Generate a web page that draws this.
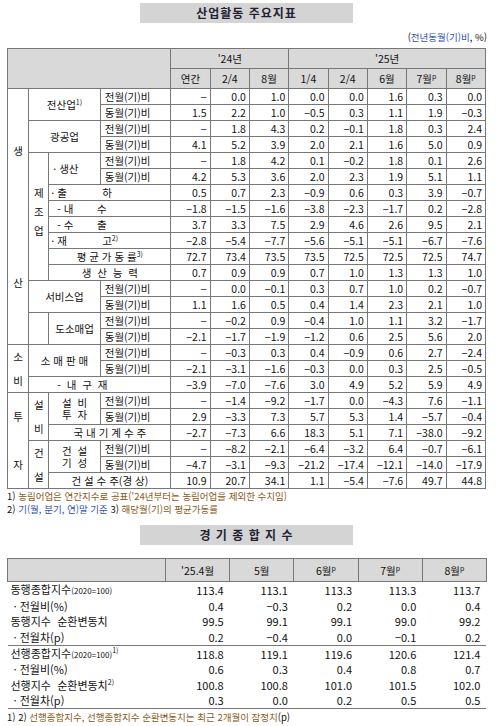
<!DOCTYPE html>
<html lang="ko">
<head>
<meta charset="UTF-8">
<script src="https://cdn.jsdelivr.net/npm/chart.js"></script>
<style>
    body { margin: 0; width: 497px; height: 726px; background: #fff; font-family: "Noto Sans CJK KR", sans-serif; font-size: 10.5px; color: #111; position: relative; overflow: hidden; }
    .title { position: absolute; left: 140px; width: 213px; height: 20px; background: #d4d4d4; text-align: center; font-weight: bold; font-size: 12px; line-height: 20px; color: #223; letter-spacing: 1px; }
    .unit { position: absolute; right: 10px; top: 30px; font-size: 9.5px; }
    table { position: absolute; left: 7px; border-collapse: collapse; table-layout: fixed; }
    #main td, #main th { border: 1px solid #777; height: 15px; padding: 0 2px; line-height: 12px; white-space: nowrap; font-weight: normal; }
    #main th { background: #d9d9d9; text-align: center; height: 19px; }
    #main td.v { text-align: right; padding-right: 3px; }
    #main td.t { border-left: 1px dotted #555; text-align: left; padding-left: 4px; }
    #main td.c { text-align: center; }
    #main tr.d td.v, #main tr.d td.t { border-top: 1px dotted #555; }
    #main tr.n td.v, #main tr.n td.t, #main tr.n td.nm { border-top: none; }
    .note { position: absolute; left: 7px; font-size: 9.5px; line-height: 13px; }
    .blue { color: #2f55b0; }
    .brn { color: #8a5a20; }
    #cli { top: 558px; width: 479px; }
    #cli th { background: #d9d9d9; border: 1px solid #777; height: 20px; font-weight: normal; text-align: center; }
    #cli td { height: 15.5px; padding: 0 3px; line-height: 14px; font-size: 11px; }
    #cli td.v { text-align: right; padding-right: 6px; }
    #cli tr.top td { border-top: 1px solid #777; }
    #cli tr.last td { border-bottom: 1px solid #777; }
    sup { font-size: 7px; line-height: 0; }
</style>
</head>
<body>
<div class="title" style="top:3px">산업활동 주요지표</div>
<div class="unit">(<span class="blue">전년동월(기)비</span>, %)</div>
<table id="main" style="top:48px;width:479px"></table>
<div class="note" style="top:490px">1) <span class="brn">농림어업은 연간지수로 공표('24년부터는 농림어업을 제외한 수치임)</span><br>2) <span class="blue">기(월, 분기, 연)말 기준</span> 3) <span class="brn">해당월(기)의 평균가동률</span></div>
<div class="title" style="top:525px">경 기 종 합 지 수</div>
<table id="cli"></table>
<div class="note" style="top:711px">1) 2) <span class="brn">선행종합지수, 선행종합지수 순환변동치는 최근 2개월이 잠정치</span>(p)</div>
<script>
    // 산업활동 주요지표 columns
    const years = ["'24년", "'25년"];
    const periods = ['연간', '2/4', '8월', '1/4', '2/4', '6월', '7월<sup>p</sup>', '8월<sup>p</sup>'];

    const allMoM = [null, 0.0, 1.0, 0.0, 0.0, 1.6, 0.3, 0.0];
    const allYoY = [1.5, 2.2, 1.0, -0.5, 0.3, 1.1, 1.9, -0.3];
    const minMoM = [null, 1.8, 4.3, 0.2, -0.1, 1.8, 0.3, 2.4];
    const minYoY = [4.1, 5.2, 3.9, 2.0, 2.1, 1.6, 5.0, 0.9];
    const mfgMoM = [null, 1.8, 4.2, 0.1, -0.2, 1.8, 0.1, 2.6];
    const mfgYoY = [4.2, 5.3, 3.6, 2.0, 2.3, 1.9, 5.1, 1.1];
    const shipment = [0.5, 0.7, 2.3, -0.9, 0.6, 0.3, 3.9, -0.7];
    const domestic = [-1.8, -1.5, -1.6, -3.8, -2.3, -1.7, 0.2, -2.8];
    const exports = [3.7, 3.3, 7.5, 2.9, 4.6, 2.6, 9.5, 2.1];
    const inventory = [-2.8, -5.4, -7.7, -5.6, -5.1, -5.1, -6.7, -7.6];
    const utilization = [72.7, 73.4, 73.5, 73.5, 72.5, 72.5, 72.5, 74.7];
    const capacity = [0.7, 0.9, 0.9, 0.7, 1.0, 1.3, 1.3, 1.0];
    const svcMoM = [null, 0.0, -0.1, 0.3, 0.7, 1.0, 0.2, -0.7];
    const svcYoY = [1.1, 1.6, 0.5, 0.4, 1.4, 2.3, 2.1, 1.0];
    const wrMoM = [null, -0.2, 0.9, -0.4, 1.0, 1.1, 3.2, -1.7];
    const wrYoY = [-2.1, -1.7, -1.9, -1.2, 0.6, 2.5, 5.6, 2.0];
    const retailMoM = [null, -0.3, 0.3, 0.4, -0.9, 0.6, 2.7, -2.4];
    const retailYoY = [-2.1, -3.1, -1.6, -0.3, 0.0, 0.3, 2.5, -0.5];
    const durable = [-3.9, -7.0, -7.6, 3.0, 4.9, 5.2, 5.9, 4.9];
    const facMoM = [null, -1.4, -9.2, -1.7, 0.0, -4.3, 7.6, -1.1];
    const facYoY = [2.9, -3.3, 7.3, 5.7, 5.3, 1.4, -5.7, -0.4];
    const machOrders = [-2.7, -7.3, 6.6, 18.3, 5.1, 7.1, -38.0, -9.2];
    const conMoM = [null, -8.2, -2.1, -6.4, -3.2, 6.4, -0.7, -6.1];
    const conYoY = [-4.7, -3.1, -9.3, -21.2, -17.4, -12.1, -14.0, -17.9];
    const conOrders = [10.9, 20.7, 34.1, 1.1, -5.4, -7.6, 49.7, 44.8];

    // 경기종합지수
    const cliMonths = ["'25.4월", '5월', '6월<sup>p</sup>', '7월<sup>p</sup>', '8월<sup>p</sup>'];
    const cliLabels = ['동행종합지수<small style="font-size:8px">(2020=100)</small>', '&nbsp;· 전월비(%)', '동행지수 &nbsp;순환변동치', '&nbsp;· 전월차(p)',
        '선행종합지수<small style="font-size:8px">(2020=100)</small><sup>1)</sup>', '&nbsp;· 전월비(%)', '선행지수 &nbsp;순환변동치<sup>2)</sup>', '&nbsp;· 전월차(p)'];
    const coinIdx = [113.4, 113.1, 113.3, 113.3, 113.7];
    const coinMoM = [0.4, -0.3, 0.2, 0.0, 0.4];
    const coinCyc = [99.5, 99.1, 99.1, 99.0, 99.2];
    const coinCycD = [0.2, -0.4, 0.0, -0.1, 0.2];
    const leadIdx = [118.8, 119.1, 119.6, 120.6, 121.4];
    const leadMoM = [0.6, 0.3, 0.4, 0.8, 0.7];
    const leadCyc = [100.8, 100.8, 101.0, 101.5, 102.0];
    const leadCycD = [0.3, 0.0, 0.2, 0.5, 0.5];

    const fmt = v => v === null ? '−' : v.toFixed(1).replace('-', '−');
    const vals = arr => arr.map(v => `<td class="v">${fmt(v)}</td>`).join('');
    const MOM = '<td class="t">전월(기)비</td>', YOY = '<td class="t">동월(기)비</td>';
    const DOT = 'border-top:1px dotted #555';

    const main = document.getElementById('main');
    let h = '<colgroup><col style="width:21px"><col style="width:20px"><col style="width:51px"><col style="width:70px">';
    h += '<col style="width:39px">'.repeat(8) + '</colgroup>';
    h += `<tr><th colspan="4" rowspan="2"></th><th colspan="3">${years[0]}</th><th colspan="5">${years[1]}</th></tr>`;
    h += '<tr>' + periods.map(p => `<th>${p}</th>`).join('') + '</tr>';
    h += `<tr><td rowspan="16" class="c">생<br><br><br><br><br><br><br><br><br><br><br>산</td><td colspan="2" rowspan="2" class="c">전산업<sup>1)</sup></td>${MOM}${vals(allMoM)}</tr>`;
    h += `<tr class="d">${YOY}${vals(allYoY)}</tr>`;
    h += `<tr><td colspan="2" rowspan="2" class="c">광공업</td>${MOM}${vals(minMoM)}</tr>`;
    h += `<tr class="d">${YOY}${vals(minYoY)}</tr>`;
    h += `<tr><td rowspan="8" class="c" style="vertical-align:top;padding-top:30px;line-height:19px">제<br>조<br>업</td><td rowspan="2" style="padding-left:4px">· 생산</td>${MOM}${vals(mfgMoM)}</tr>`;
    h += `<tr class="d">${YOY}${vals(mfgYoY)}</tr>`;
    h += `<tr class="d"><td colspan="2" style="${DOT}">· 출 &nbsp;&nbsp;&nbsp;&nbsp;&nbsp;&nbsp;&nbsp;&nbsp;&nbsp;&nbsp; 하</td>${vals(shipment)}</tr>`;
    h += `<tr class="n"><td colspan="2" class="nm">&nbsp;&nbsp;- 내 &nbsp;&nbsp;&nbsp;&nbsp;&nbsp;&nbsp; 수</td>${vals(domestic)}</tr>`;
    h += `<tr class="n"><td colspan="2" class="nm">&nbsp;&nbsp;- 수 &nbsp;&nbsp;&nbsp;&nbsp;&nbsp;&nbsp; 출</td>${vals(exports)}</tr>`;
    h += `<tr class="n"><td colspan="2" class="nm">· 재 &nbsp;&nbsp;&nbsp;&nbsp;&nbsp;&nbsp;&nbsp;&nbsp;&nbsp;&nbsp; 고<sup>2)</sup></td>${vals(inventory)}</tr>`;
    h += `<tr class="d"><td colspan="2" class="c" style="${DOT}">평 균 가 동 률<sup>3)</sup></td>${vals(utilization)}</tr>`;
    h += `<tr class="n"><td colspan="2" class="c" style="border-top:none">생 &nbsp;산 &nbsp;능 &nbsp;력</td>${vals(capacity)}</tr>`;
    h += `<tr><td colspan="2" rowspan="2" class="c">서비스업</td>${MOM}${vals(svcMoM)}</tr>`;
    h += `<tr class="d">${YOY}${vals(svcYoY)}</tr>`;
    h += `<tr><td rowspan="2" style="border-top:none"></td><td rowspan="2" class="c">도소매업</td>${MOM}${vals(wrMoM)}</tr>`;
    h += `<tr class="d">${YOY}${vals(wrYoY)}</tr>`;
    h += `<tr><td rowspan="3" class="c">소<br><br>비</td><td colspan="2" rowspan="2" class="c">소 매 판 매</td>${MOM}${vals(retailMoM)}</tr>`;
    h += `<tr class="d">${YOY}${vals(retailYoY)}</tr>`;
    h += `<tr class="d"><td colspan="3" style="${DOT};padding-left:28px">- &nbsp;내 &nbsp;구 &nbsp;재</td>${vals(durable)}</tr>`;
    h += `<tr><td rowspan="6" class="c">투<br><br><br><br>자</td><td rowspan="3" class="c">설<br><br>비</td><td rowspan="2" class="c" style="line-height:12px">설 &nbsp;비<br>투 &nbsp;자</td>${MOM}${vals(facMoM)}</tr>`;
    h += `<tr class="d">${YOY}${vals(facYoY)}</tr>`;
    h += `<tr><td colspan="2" class="c">국 내 기 계 수 주</td>${vals(machOrders)}</tr>`;
    h += `<tr><td rowspan="3" class="c">건<br><br>설</td><td rowspan="2" class="c" style="line-height:12px">건 &nbsp;설<br>기 &nbsp;성</td>${MOM}${vals(conMoM)}</tr>`;
    h += `<tr class="d">${YOY}${vals(conYoY)}</tr>`;
    h += `<tr class="d"><td colspan="2" class="c" style="${DOT}">건 설 수 주(경 상)</td>${vals(conOrders)}</tr>`;
    main.innerHTML = h;

    const cliRows = [coinIdx, coinMoM, coinCyc, coinCycD, leadIdx, leadMoM, leadCyc, leadCycD];
    let c = '<colgroup><col style="width:158px">' + '<col style="width:64.2px">'.repeat(5) + '</colgroup>';
    c += '<tr><th></th>' + cliMonths.map(m => `<th>${m}</th>`).join('') + '</tr>';
    cliRows.forEach((arr, i) => {
        const cls = i === 4 ? 'top' : (i === 7 ? 'last' : '');
        c += `<tr class="${cls}"><td>${cliLabels[i]}</td>${vals(arr)}</tr>`;
    });
    document.getElementById('cli').innerHTML = c;
</script>
</body>
</html>
